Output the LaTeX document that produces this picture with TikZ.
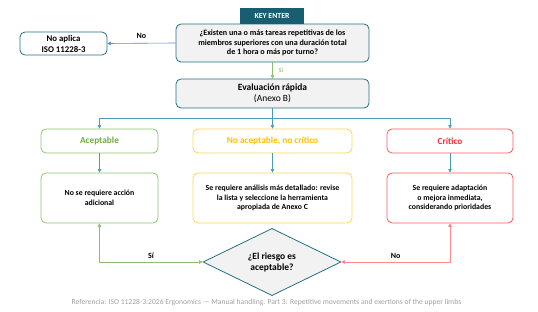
\documentclass[tikz,border=0pt]{standalone}
\usepackage{fontspec}
\setmainfont{Carlito}
\usetikzlibrary{shapes.geometric,arrows.meta}
\definecolor{tealb}{RGB}{35,112,132}
\definecolor{tabfill}{RGB}{24,94,114}
\definecolor{tealln}{RGB}{74,157,176}
\definecolor{grayfill}{RGB}{242,242,242}
\definecolor{gborder}{RGB}{140,196,110}
\definecolor{gtext}{RGB}{112,173,71}
\definecolor{yborder}{RGB}{255,214,80}
\definecolor{ytext}{RGB}{255,192,0}
\definecolor{rborder}{RGB}{255,90,90}
\definecolor{rtext}{RGB}{240,50,50}
\definecolor{blueln}{RGB}{90,135,215}
\definecolor{foot}{RGB}{160,160,160}
\tikzset{
  box/.style={draw, rounded corners=5pt, align=center, inner sep=1pt, line width=0.8pt},
  qbox/.style={box, draw=tealb, fill=grayfill},
  wbox/.style={box, draw=tealb, fill=white},
  gbox/.style={box, draw=gborder, fill=white},
  ybox/.style={box, draw=yborder, fill=white},
  rbox/.style={box, draw=rborder, fill=white},
  tip/.style={-{Triangle[length=3.5pt,width=3.5pt]}},
  tline/.style={draw=tealln, line width=0.6pt, tip},
  lbl/.style={font=\fontsize{8}{9}\selectfont\bfseries, inner sep=1pt},
}
\begin{document}
\begin{tikzpicture}[x=1pt,y=-1pt]
\useasboundingbox (0,0) rectangle (538,312);
% nodes
\node[qbox, minimum width=193pt, minimum height=38pt, font=\fontsize{8.1}{9.5}\selectfont\bfseries] (q) at (272.5,43)
  {¿Existen una o más tareas repetitivas de los\\miembros superiores con una duración total\\de 1 hora o más por turno?};
\node[fill=tabfill, text=white, minimum width=64pt, minimum height=16pt, inner sep=0pt, font=\fontsize{7.8}{8}\selectfont\bfseries] (tab) at (272,16) {KEY ENTER};
\node[wbox, minimum width=87pt, minimum height=23pt, font=\fontsize{8.8}{11}\selectfont\bfseries] (na) at (63.5,43.5) {No aplica\\ISO 11228-3};
\node[qbox, minimum width=193pt, minimum height=29pt, font=\fontsize{9.5}{10.5}\selectfont] (ev) at (272.5,93.5) {\textbf{Evaluación rápida}\\(Anexo B)};
\node[gbox, minimum width=117pt, minimum height=24pt, text=gtext, font=\fontsize{9.3}{10}\selectfont\bfseries] (ac) at (99.5,141) {Aceptable};
\node[ybox, minimum width=159pt, minimum height=24pt, text=ytext, font=\fontsize{9.3}{10}\selectfont\bfseries] (nc) at (272.5,141) {No aceptable, no crítico};
\node[rbox, minimum width=126pt, minimum height=24pt, text=rtext, font=\fontsize{9.3}{10}\selectfont\bfseries] (cr) at (450,141) {Crítico};
\node[gbox, minimum width=117pt, minimum height=50pt, font=\fontsize{7.8}{9.7}\selectfont\bfseries] (acl) at (99.5,198) {No se requiere acción\\adicional};
\node[ybox, minimum width=159pt, minimum height=50pt, font=\fontsize{7.8}{9.7}\selectfont\bfseries] (ncl) at (272.5,198) {Se requiere análisis más detallado: revise\\la lista y seleccione la herramienta\\apropiada de Anexo C};
\node[rbox, minimum width=126pt, minimum height=50pt, font=\fontsize{7.8}{9.7}\selectfont\bfseries] (crl) at (450,198) {Se requiere adaptación\\o mejora inmediata,\\considerando prioridades};
\node[diamond, draw=tealb, fill=grayfill, line width=0.8pt, minimum width=138pt, minimum height=61pt, inner sep=0pt, align=center, font=\fontsize{9.5}{11}\selectfont\bfseries] (dm) at (272,262) {¿El riesgo es\\aceptable?};
\node[font=\fontsize{7.6}{8}\selectfont, text=foot] (ft) at (266.5,303) {Referencia: ISO 11228-3:2026 Ergonomics — Manual handling. Part 3: Repetitive movements and exertions of the upper limbs};
% connectors
\draw[draw=blueln, line width=0.6pt, tip] (q.west) -- (na.east) node[lbl, midway, above=3pt] (lno) {No};
\draw[draw=gtext!80, line width=0.6pt, tip] (q.south) -- (ev.north) node[lbl, midway, right=5pt, text=gtext, font=\fontsize{6}{6}\selectfont] (lsi) {Sí};
\coordinate (bus) at (272.5,118);
\draw[draw=tealln, line width=0.6pt] (ev.south) -- (bus);
\draw[tline] (bus) -- (nc.north);
\draw[tline] (bus) -| (ac.north);
\draw[tline] (bus) -| (cr.north);
\draw[tline] (ac.south) -- (acl.north);
\draw[tline] (nc.south) -- (ncl.north);
\draw[tline] (cr.south) -- (crl.north);
\draw[draw=gtext!80, line width=0.6pt, {Triangle[length=3.5pt,width=3.5pt]}-{Triangle[length=3.5pt,width=3.5pt]}] (acl.south) |- (dm.west) node[lbl, pos=0.75, above=2pt] (lsi2) {Sí};
\draw[draw=rborder!70, line width=0.6pt, {Triangle[length=3.5pt,width=3.5pt,fill=rtext]}-{Triangle[length=3.5pt,width=3.5pt,fill=rtext]}] (crl.south) |- (dm.east) node[lbl, pos=0.75, above=2pt] (lno2) {No};
\end{tikzpicture}
\end{document}
